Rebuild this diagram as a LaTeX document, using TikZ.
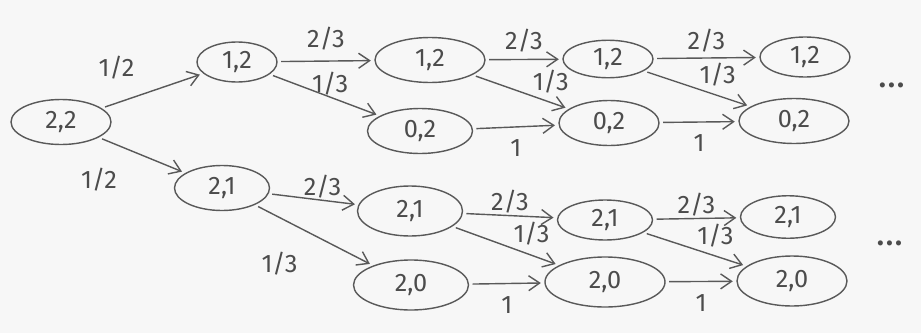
\documentclass[tikz,border=0pt]{standalone}
\usepackage{fontspec}
\setmainfont{Fira Sans}
\usetikzlibrary{shapes.geometric,arrows.meta}
\begin{document}
\begin{tikzpicture}[every node/.style={font=\Large},
  state/.style={draw,ellipse,thick,gray!70!black,text=gray!60!black,minimum width=2cm,minimum height=0.9cm,inner sep=1pt},
  move/.style={-{Straight Barb[length=2.2mm,width=3mm]},thick,gray!70!black,shorten <=2pt,shorten >=2pt},
  prob/.style={font=\Large,text=gray!60!black,inner sep=1pt}]
  \fill[gray!6] (0,0) rectangle (18.42,6.66);
  \useasboundingbox (0,0) rectangle (18.42,6.66);
  % start
  \node[state] (s22) at (1.22,4.22) {2,2};
  % first step
  \node[state,minimum width=1.6cm,minimum height=0.8cm] (a12) at (4.74,5.42) {1,2};
  \node[state,minimum width=1.9cm] (a21) at (4.44,2.90) {2,1};
  % second step
  \node[state,minimum width=2.2cm] (b12) at (8.60,5.46) {1,2};
  \node[state,minimum width=2.1cm] (b02) at (8.40,4.04) {0,2};
  \node[state,minimum width=2.1cm,minimum height=1cm] (b21) at (8.20,2.44) {2,1};
  \node[state,minimum width=2.3cm,minimum height=1cm] (b20) at (8.22,0.96) {2,0};
  % third step
  \node[state,minimum width=1.8cm,minimum height=0.75cm] (c12) at (12.16,5.48) {1,2};
  \node[state] (c02) at (12.18,4.20) {0,2};
  \node[state,minimum width=1.9cm,minimum height=0.8cm] (c21) at (12.10,2.26) {2,1};
  \node[state,minimum width=2.4cm,minimum height=1cm] (c20) at (12.10,1.02) {2,0};
  % fourth step
  \node[state,minimum width=1.8cm,minimum height=0.8cm] (d12) at (16.10,5.52) {1,2};
  \node[state,minimum width=2.2cm] (d02) at (15.88,4.24) {0,2};
  \node[state,minimum width=1.9cm,minimum height=0.85cm] (d21) at (15.76,2.32) {2,1};
  \node[state,minimum width=2.2cm,minimum height=1cm] (d20) at (15.84,1.04) {2,0};
  \node[text=gray!60!black,font=\huge] (more1) at (17.84,4.95) {\ldots};
  \node[text=gray!60!black,font=\huge] (more2) at (17.80,1.80) {\ldots};
  % arrows
  \draw[move] (s22) -- node[prob,above left=6pt,pos=0.45] {1/2} (a12);
  \draw[move] (s22) -- node[prob,below left=8pt,pos=0.4] {1/2} (a21);
  \draw[move] (a12) -- node[prob,above=5pt] {2/3} (b12);
  \draw[move] (a12) -- node[prob,above,pos=0.55] {1/3} (b02);
  \draw[move] (a21) -- node[prob,above,pos=0.6] {2/3} (b21);
  \draw[move] (a21) -- node[prob,below left=8pt,pos=0.5] {1/3} (b20);
  \draw[move] (b12) -- node[prob,above=3pt] {2/3} (c12);
  \draw[move] (b12) -- node[prob,above right,pos=0.6] {1/3} (c02);
  \draw[move] (b02) -- node[prob,below=6pt] {1} (c02);
  \draw[move] (b21) -- node[prob,above] {2/3} (c21);
  \draw[move] (b21) -- node[prob,above right,pos=0.55] {1/3} (c20);
  \draw[move] (b20) -- node[prob,below=6pt] {1} (c20);
  \draw[move] (c12) -- node[prob,above=2pt] {2/3} (d12);
  \draw[move] (c12) -- node[prob,above right,pos=0.5] {1/3} (d02);
  \draw[move] (c02) -- node[prob,below=6pt] {1} (d02);
  \draw[move] (c21) -- node[prob,above] {2/3} (d21);
  \draw[move] (c21) -- node[prob,above right,pos=0.5] {1/3} (d20);
  \draw[move] (c20) -- node[prob,below=6pt] {1} (d20);
\end{tikzpicture}
\end{document}
